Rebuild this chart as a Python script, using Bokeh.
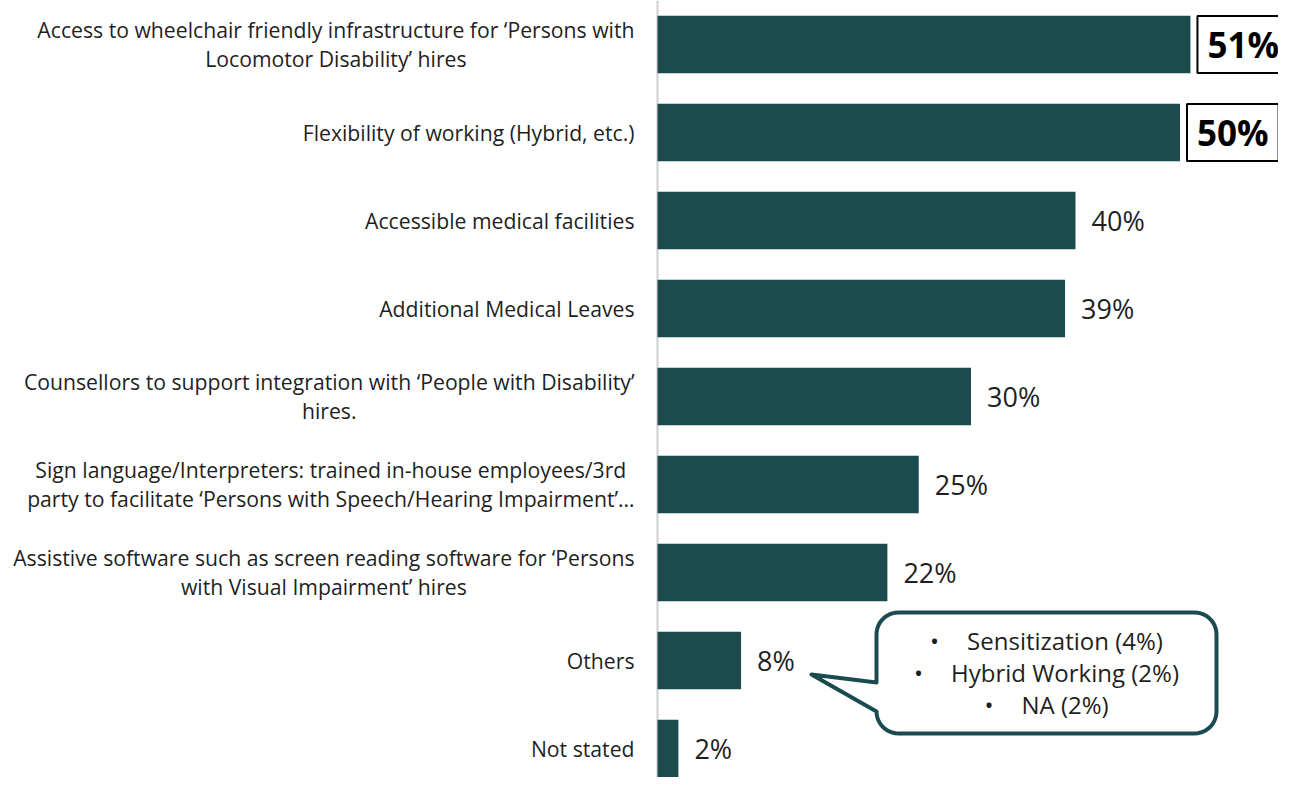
import numpy as np
from bokeh.plotting import figure
from bokeh.models import Range1d, FactorRange, Span, ColumnDataSource
from bokeh.transform import dodge
from bokeh.core.properties import value
from bokeh.embed import file_html
from bokeh.resources import INLINE

# ---------------- data ----------------
categories = [
    "Access to wheelchair friendly infrastructure for \u2018Persons with\nLocomotor Disability\u2019 hires",
    "Flexibility of working (Hybrid, etc.)",
    "Accessible medical facilities",
    "Additional Medical Leaves",
    "Counsellors to support integration with \u2018People with Disability\u2019\nhires.",
    "Sign language/Interpreters: trained in-house employees/3rd\nparty to facilitate \u2018Persons with Speech/Hearing Impairment\u2019\u2026",
    "Assistive software such as screen reading software for \u2018Persons\nwith Visual Impairment\u2019 hires",
    "Others",
    "Not stated",
]
values = [51, 50, 40, 39, 30, 25, 22, 8, 2]
highlighted = [True, True, False, False, False, False, False, False, False]
others_breakdown = ["Sensitization (4%)", "Hybrid Working (2%)", "NA (2%)"]
callout_category = "Others"

# ---------------- style / layout ----------------
FONT = value("Open Sans")
BAR = "#1b4b4f"
TXT = "#1f1f1f"
W, H = 1278, 777
AXIS_PX = 657
PX_PER_PCT = 10.45
PAD = 0.085          # range padding on each side (negative => tighter)
SHIFT = 0.085        # move all rows slightly down
PY_PER_UNIT = H / (len(categories) - 2 * PAD)

labels = [f"{v}%" for v in values]
src = ColumnDataSource(dict(cat=categories, val=values, lbl=labels))
src_n = ColumnDataSource(dict(
    cat=[c for c, h in zip(categories, highlighted) if not h],
    val=[v for v, h in zip(values, highlighted) if not h],
    lbl=[l for l, h in zip(labels, highlighted) if not h]))
src_h = ColumnDataSource(dict(
    cat=[c for c, h in zip(categories, highlighted) if h],
    val=[v for v, h in zip(values, highlighted) if h],
    lbl=[l for l, h in zip(labels, highlighted) if h]))

y_range = FactorRange(factors=categories[::-1], range_padding=-PAD,
                      range_padding_units="absolute")
x_range = Range1d(-AXIS_PX / PX_PER_PCT, (W - AXIS_PX) / PX_PER_PCT)

p = figure(width=W, height=H, x_range=x_range, y_range=y_range,
           output_backend="svg", toolbar_location=None,
           x_axis_location=None, y_axis_location=None, min_border=0,
           outline_line_color=None, background_fill_color="white",
           border_fill_color="white")
p.grid.visible = False

p.add_layout(Span(location=0, dimension="height", line_color="#d9d9d9",
                  line_width=2.5, level="underlay"))

Y_CAT = dodge("cat", -SHIFT, range=y_range)

p.hbar(y=Y_CAT, left=0, right="val", height=0.655, source=src,
       fill_color=BAR, line_color=None)

# category labels (block right-aligned, lines centred)
p.text(x=-2.2, y=Y_CAT, text="cat", source=src, text_align="center",
       anchor="center_right", text_baseline="middle", text_font=FONT,
       text_font_size="21.2px", text_line_height=1.0, text_color=TXT)

# value labels
p.text(x="val", y=Y_CAT, text="lbl", source=src_n, x_offset=16,
       text_align="left", text_baseline="middle", text_font=FONT,
       text_font_size="27px", text_color=TXT)
p.text(x="val", y=Y_CAT, text="lbl", source=src_h, x_offset=7,
       text_align="left", text_baseline="middle", text_font=FONT,
       text_font_size="35px", text_font_style="bold", text_color="black",
       border_line_color="black", border_line_width=2,
       background_fill_color="white", padding=(10, 5))

# ---------------- callout ----------------
cy = categories[::-1].index(callout_category) + 0.5 - SHIFT
def X(px):
    return px / PX_PER_PCT
def Y(py):
    return cy - py / PY_PER_UNIT

L, R, T, B, r = 219, 559, -48, 73, 22
tip_x, tip_y, j_up, j_lo = 154, 14, 22, 51
pts = []
def arc(cx, cyy, a0, a1):
    for a in np.linspace(np.radians(a0), np.radians(a1), 12):
        pts.append((cx + r * np.cos(a), cyy + r * np.sin(a)))
arc(L + r, T + r, 180, 270)
arc(R - r, T + r, 270, 360)
arc(R - r, B - r, 0, 90)
arc(L + r, B - r, 90, 180)
pts += [(L, j_lo), (tip_x, tip_y), (L, j_up)]
p.patch([X(a) for a, b in pts], [Y(b) for a, b in pts], fill_color="white",
        line_color=BAR, line_width=4, line_join="round")

line_offsets = [-20, 12, 44]
p.text(x=[X((L + R) / 2)] * 3, y=[Y(o) for o in line_offsets],
       text=["\u2022\u2002\u2002\u2009" + t for t in others_breakdown],
       text_align="center", text_baseline="middle", text_font=FONT,
       text_font_size="24px", text_color=TXT)

open("out.html", "w").write(file_html(p, INLINE))
